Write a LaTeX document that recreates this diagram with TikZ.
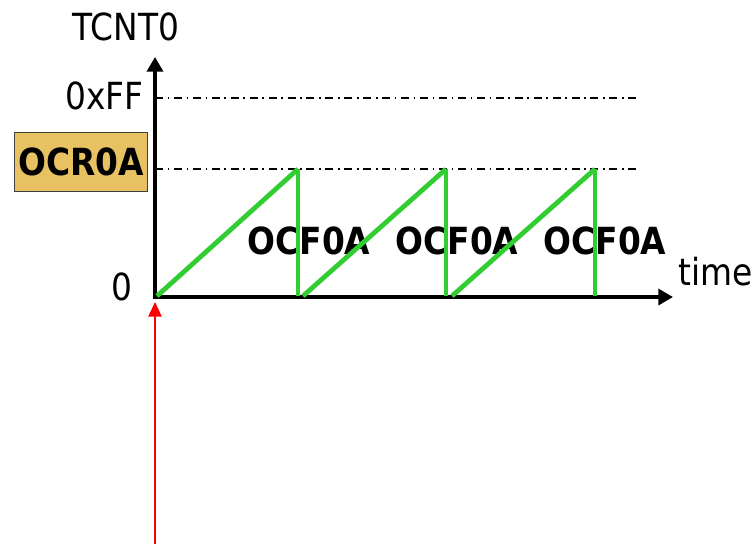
\documentclass[tikz,border=0pt]{standalone}
\usepackage{fontspec}
\setmainfont{DejaVu Sans}[FakeStretch=0.88]
\usetikzlibrary{arrows.meta}
\definecolor{sawgreen}{RGB}{50,205,50}
\definecolor{ocrgold}{RGB}{232,194,98}
\tikzset{
	lbl/.style={inner sep=0pt, font=\fontsize{28}{32}\selectfont},
	bold lbl/.style={lbl, font=\fontsize{28}{32}\selectfont\bfseries},
	axis/.style={line width=2.6pt, -{Triangle[width=12pt,length=11pt]}},
	level/.style={line width=1.1pt, dash pattern=on 6pt off 3.5pt on 1.2pt off 3.5pt},
	ramp/.style={sawgreen, line width=3.6pt},
	reset/.style={sawgreen, line width=2.6pt},
}
\begin{document}
\begin{tikzpicture}[x=0.75pt, y=-0.75pt]
		\useasboundingbox (0,0) rectangle (755,544);
		
		% Axes
		\coordinate (origin) at (155,297);
		\coordinate (ytip) at (155,57);
		\coordinate (xtip) at (673,297);
		\draw[level] (155,98) coordinate (ffleft) -- (640,98) coordinate (ffright);
		\draw[level] (155,169) coordinate (ocrleft) -- (640,169) coordinate (ocrright);
		\draw[axis] ([yshift=-1.3pt]origin) -- (ytip);
		\draw[axis] ([xshift=-1.3pt]origin) -- (xtip);
		
		% Axis labels
		\node[lbl] (tcnt) at (126,27) {TCNT0};
		\node[lbl, anchor=east] (ff) at (144,96) {0xFF};
		\node[lbl, anchor=east] (zero) at (133,287) {0};
		\node[lbl, anchor=west] (time) at (678,272) {time};
		\node[bold lbl, fill=ocrgold, draw=black!75, line width=1.1pt, minimum width=100pt, minimum height=44pt] (ocr) at (81,162) {OCR0A};
		
		% Flag labels
		\node[bold lbl] (flag1) at (309,241) {OCF0A};
		\node[bold lbl] (flag2) at (457,241) {OCF0A};
		\node[bold lbl] (flag3) at (605,241) {OCF0A};
		
		% Sawtooth
		\draw[ramp] (157,296) -- (298,169);
		\draw[reset] (298,169) -- (298,296);
		\draw[ramp] (303,296) -- (446,169);
		\draw[reset] (446,169) -- (446,296);
		\draw[ramp] (452,296) -- (595,169);
		\draw[reset] (595,169) -- (595,296);
		
		% Start marker
		\coordinate (start) at (155,544);
		\draw[red, line width=1.2pt, -{Triangle[width=10pt,length=11pt]}] (start) -- (155,302);
	\end{tikzpicture}
\end{document}
